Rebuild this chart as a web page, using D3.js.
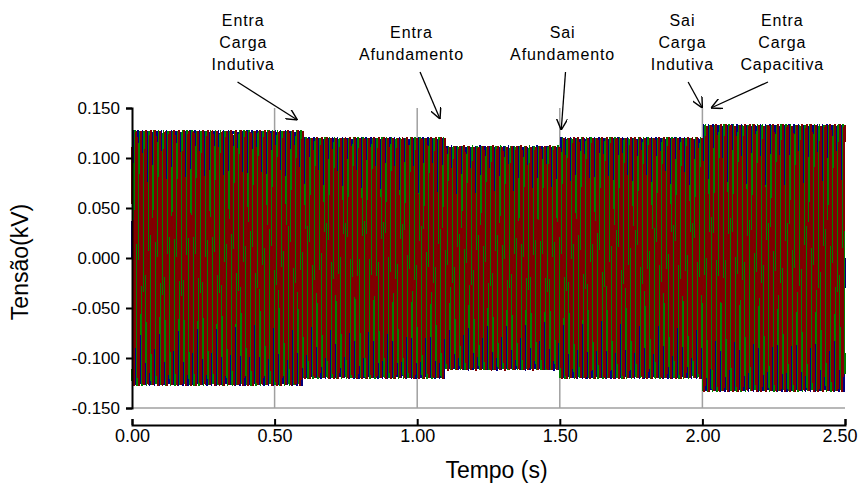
<!DOCTYPE html>
<meta charset="utf-8">
<script src="https://cdn.jsdelivr.net/npm/d3@7"></script>
<style>
body { margin: 0; background: #fff; }
svg text { font-family: "Liberation Sans", Arial, sans-serif; fill: #000; }
.axis path, .axis line { stroke: #000; stroke-width: 2px; }
.grid line { stroke: #a0a0a0; stroke-width: 1.5px; }
.wave { fill: none; stroke-width: 1.4px; shape-rendering: crispEdges; }
.note { font-size: 16px; letter-spacing: 0.9px; }
.arrow { stroke: #000; stroke-width: 1.3px; fill: none; }
</style>
<body>
<script>

// segment boundaries (s) and peak voltage of each segment (kV)
var eventTimes = [0, 0.6, 1.1, 1.5, 2.0, 2.5];
var amplitudes = [0.128, 0.121, 0.1125, 0.121, 0.134];
var freq = 60;                      // system frequency (Hz)
var phaseShift = [0, -120, 120];    // degrees, phases A B C
var sampleStep = 1 / 1010;          // simulation step (s)

var xTicks = [0, 0.5, 1.0, 1.5, 2.0, 2.5];
var yTicks = [-0.15, -0.10, -0.05, 0, 0.05, 0.10, 0.15];
var vGrid = [0.5, 1.0, 1.5, 2.0];

// annotation texts, and where each arrow points (time, kV)
var notes = [
  {lines: ["Entra", "Carga", "Indutiva"], tx: 0.39, sx: 0.37, t: 0.58, v: 0.138},
  {lines: ["Entra", "Afundamento"], tx: 0.98, sx: 1.01, t: 1.08, v: 0.139},
  {lines: ["Sai", "Afundamento"], tx: 1.51, sx: 1.52, t: 1.505, v: 0.128},
  {lines: ["Sai", "Carga", "Indutiva"], tx: 1.93, sx: 1.95, t: 2.0, v: 0.150},
  {lines: ["Entra", "Carga", "Capacitiva"], tx: 2.28, sx: 2.23, t: 2.03, v: 0.150}
];

var phaseColors = ["#000080", "#008000", "#800000"];
var phaseWidths = [1.4, 1.4, 1.9];

var margin = {top: 108, right: 14, bottom: 81, left: 132},
    width = 845 - margin.left,
    height = 408 - margin.top;

var x = d3.scaleLinear().domain([0, 2.5]).range([0, width]);
var y = d3.scaleLinear().domain([-0.15, 0.15]).range([height, 0]);

var root = d3.select("body").append("svg")
    .attr("width", 859)
    .attr("height", 489);
var svg = root.append("g")
    .attr("transform", "translate(" + margin.left + "," + margin.top + ")");

// grid lines
var grid = svg.append("g").attr("class", "grid");
grid.selectAll(".h").data(yTicks.slice(0, -1)).enter().append("line")
    .attr("x1", 0).attr("x2", width)
    .attr("y1", function(d) { return y(d); })
    .attr("y2", function(d) { return y(d); });
grid.selectAll(".v").data(vGrid).enter().append("line")
    .attr("x1", function(d) { return x(d); })
    .attr("x2", function(d) { return x(d); })
    .attr("y1", 0).attr("y2", height);

// build the three phase voltages
function amp(t) {
  for (var i = 0; i < amplitudes.length; i++) {
    if (t < eventTimes[i + 1]) return amplitudes[i];
  }
  return amplitudes[amplitudes.length - 1];
}
var times = d3.range(0, 2.5 + sampleStep / 2, sampleStep);
var series = phaseShift.map(function(ph) {
  return times.map(function(t) {
    return {t: t, v: amp(t) * Math.sin(2 * Math.PI * freq * t + ph * Math.PI / 180)};
  });
});

var line = d3.line()
    .x(function(d) { return x(d.t); })
    .y(function(d) { return y(d.v); });

svg.selectAll(".wave").data(series).enter().append("path")
    .attr("class", "wave")
    .style("stroke", function(d, i) { return phaseColors[i]; })
    .style("stroke-width", function(d, i) { return phaseWidths[i] + "px"; })
    .attr("d", line);

// y axis
var yAxis = svg.append("g").attr("class", "axis")
    .call(d3.axisLeft(y).tickValues(yTicks).tickSize(6).tickPadding(6)
      .tickFormat(function(d) { return d.toFixed(3); }));
yAxis.selectAll("text").style("font-size", "17px");

// x axis, detached below the plot, ticks pointing up
var xAxis = svg.append("g").attr("class", "axis")
    .attr("transform", "translate(0," + (height + 17) + ")")
    .call(d3.axisBottom(x).tickValues(xTicks).tickSize(-6).tickPadding(4)
      .tickFormat(function(d) { return d.toFixed(2); }));
xAxis.selectAll("text").style("font-size", "18px");
// keep the last label inside the page
xAxis.selectAll(".tick").filter(function(d) { return d === 2.5; }).select("text")
    .attr("text-anchor", "end").attr("x", 12);

// axis titles
svg.append("text")
    .attr("x", width / 2 + 8).attr("y", height + 70)
    .attr("text-anchor", "middle")
    .style("font-size", "23px")
    .text("Tempo (s)");
svg.append("text")
    .attr("transform", "translate(" + (-104) + "," + (height / 2 + 4) + ") rotate(-90)")
    .attr("text-anchor", "middle")
    .style("font-size", "23px")
    .text("Tensão(kV)");

// annotations
var notesG = root.append("g");
notesG.append("defs").append("marker")
    .attr("id", "head").attr("viewBox", "0 0 10 10")
    .attr("refX", 10).attr("refY", 5)
    .attr("markerWidth", 11).attr("markerHeight", 11)
    .attr("markerUnits", "userSpaceOnUse")
    .attr("orient", "auto")
  .append("path")
    .attr("d", "M0,0 L10,5 L0,10")
    .attr("class", "arrow");

notes.forEach(function(n) {
  var cx = margin.left + x(n.tx);
  var firstY = n.lines.length === 3 ? 26 : 38;
  var t = notesG.append("text").attr("class", "note").attr("text-anchor", "middle");
  n.lines.forEach(function(s, i) {
    t.append("tspan").attr("x", cx).attr("y", firstY + i * 22).text(s);
  });
  var bottomY = firstY + (n.lines.length - 1) * 22 + 12;
  notesG.append("line").attr("class", "arrow")
      .attr("x1", margin.left + x(n.sx)).attr("y1", bottomY)
      .attr("x2", margin.left + x(n.t)).attr("y2", margin.top + y(n.v))
      .attr("marker-end", "url(#head)");
});

</script>
</body>
